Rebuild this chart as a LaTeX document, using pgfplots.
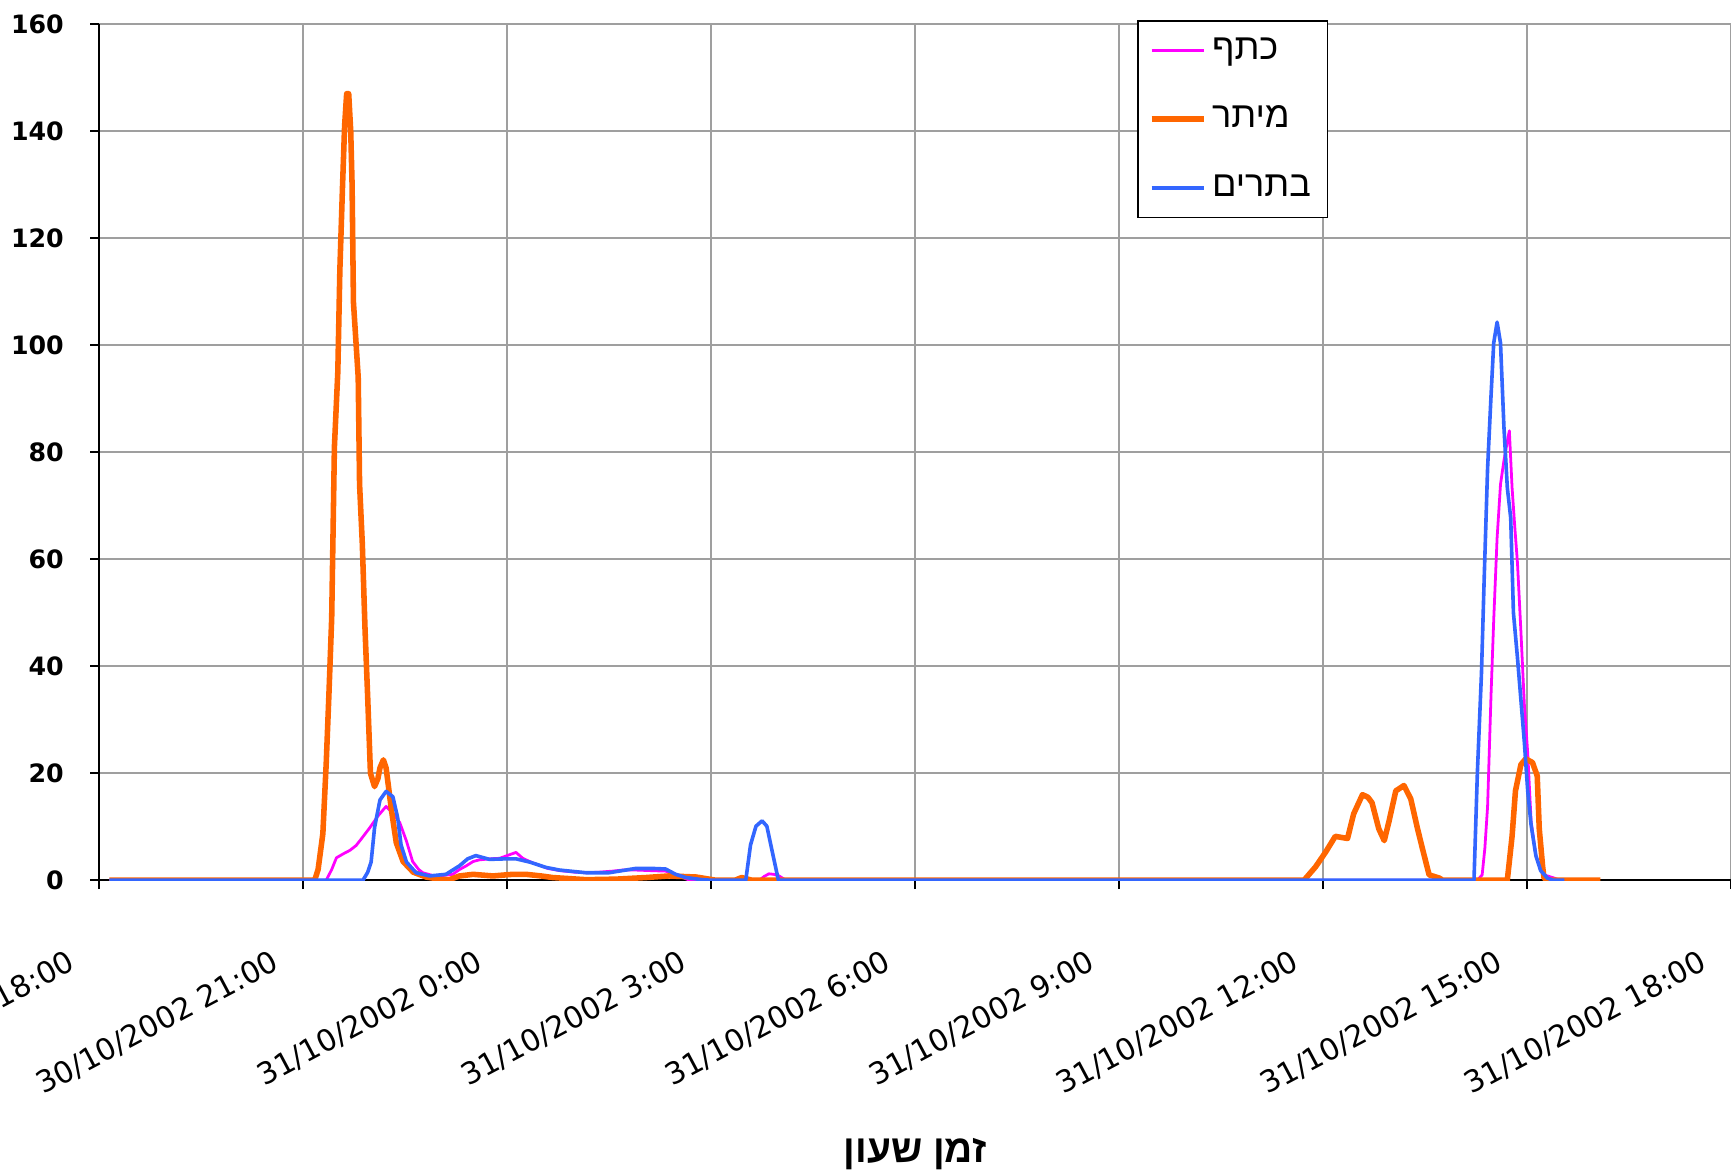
\documentclass[border=0pt]{standalone}
\usepackage{fontspec}
\setmainfont{DejaVu Sans}
\newfontfamily\heb[Script=Hebrew]{Liberation Sans}
\usepackage{pgfplots}
\pgfplotsset{compat=1.18}
\TeXXeTstate=1
\definecolor{kmag}{HTML}{FF00FF}
\definecolor{korg}{HTML}{FF6600}
\definecolor{kblu}{HTML}{3366FF}

% hours counted from 30/10/2002 18:00
\pgfplotstableread{
h v
0.15 0
3.34 0
3.42 2
3.49 4.2
3.60 5
3.69 5.6
3.78 6.5
3.86 7.8
3.98 9.8
4.10 12
4.22 13.8
4.32 12.5
4.42 10.8
4.52 7.3
4.61 3.5
4.70 2
4.76 1.4
4.90 0.9
5.00 0.8
5.20 1.1
5.30 2
5.40 2.7
5.50 3.5
5.59 3.8
5.75 4
5.89 4.1
6.00 4.6
6.13 5.2
6.23 4.1
6.33 3.5
6.43 3
6.60 2.2
6.77 1.8
7.00 1.5
7.16 1.4
7.35 1.5
7.55 1.7
7.70 1.9
7.89 1.9
8.10 1.8
8.33 1.7
8.45 1.2
8.53 0.8
8.68 0
9.71 0
9.78 0.7
9.85 1.2
9.92 1.1
10.00 0.8
10.10 0
20.27 0
20.34 1
20.38 6
20.42 13.8
20.47 34.4
20.51 48.6
20.56 64
20.61 74
20.66 78.4
20.71 82
20.74 84
20.78 73.4
20.82 66
20.86 59.2
20.91 46.5
20.96 33
21.01 23.8
21.06 11
21.13 4.6
21.20 2
21.25 1
21.40 0.4
21.48 0
}\katef

\pgfplotstableread{
h v
0.15 0
3.17 0
3.22 2
3.29 8.7
3.34 22
3.38 35
3.42 49
3.46 81
3.51 95
3.54 114
3.58 130
3.61 141
3.64 147
3.67 147
3.70 140
3.72 130
3.74 108
3.78 100
3.81 94
3.83 74
3.87 63
3.91 47
3.95 34
3.99 20
4.05 17.5
4.10 19
4.13 21
4.18 22.5
4.22 21
4.25 18
4.30 13
4.37 7
4.47 3.5
4.62 1.5
4.81 0.6
5.00 0.2
5.15 0.1
5.30 0.8
5.50 1.1
5.79 0.8
6.08 1.1
6.28 1.1
6.50 0.8
6.67 0.5
7.16 0.1
7.60 0.2
8.04 0.5
8.38 0.8
8.78 0.6
9.07 0
9.35 0
9.45 0.5
9.60 0
17.72 0
17.89 2.5
18.04 5.3
18.18 8.2
18.36 7.8
18.45 12.4
18.58 16
18.66 15.5
18.72 14.5
18.82 9.6
18.90 7.4
18.97 11
19.07 16.7
19.19 17.7
19.29 15.2
19.39 9.6
19.46 6
19.56 1
19.71 0.4
19.76 0
20.71 0
20.78 8.2
20.83 16.7
20.91 21.6
20.98 22.7
21.08 22
21.15 19.5
21.18 9.6
21.23 2.5
21.25 0.4
21.33 0
22.08 0
}\meitar

\pgfplotstableread{
h v
0.15 0
3.88 0
3.95 1.5
4.00 3.4
4.05 9.8
4.13 15
4.22 16.6
4.32 15.6
4.39 11.7
4.44 6.6
4.52 3.4
4.66 1.4
4.86 0.8
5.10 1.1
5.30 2.7
5.42 4
5.54 4.6
5.74 3.9
5.99 4
6.13 4
6.33 3.4
6.57 2.4
6.77 1.9
7.16 1.4
7.50 1.4
7.89 2.2
8.14 2.2
8.33 2.1
8.48 1.1
8.63 0.5
8.87 0.1
9.00 0
9.51 0
9.58 6.6
9.66 10.1
9.75 11.1
9.82 10.1
9.89 5.9
9.99 0
20.22 0
20.27 20.2
20.33 38.7
20.37 56.4
20.42 77
20.47 90.4
20.51 100.4
20.56 104.3
20.61 100.4
20.66 84.8
20.71 73.4
20.76 67.7
20.80 50
20.86 41.5
20.91 33.7
20.96 25.9
21.01 16.7
21.06 10.3
21.13 4.6
21.20 1.8
21.30 0.4
21.38 0
21.55 0
}\batarim

\begin{document}
\begin{tikzpicture}
\begin{axis}[
    name=ax,
    scale only axis,
    width=587.5pt, height=308.2pt,
    xmin=0, xmax=24, ymin=0, ymax=160,
    xtick={0,3,...,24},
    xticklabels={30/10/2002 18:00, 30/10/2002 21:00, 31/10/2002 0:00, 31/10/2002 3:00, 31/10/2002 6:00, 31/10/2002 9:00, 31/10/2002 12:00, 31/10/2002 15:00, 31/10/2002 18:00},
    ytick={0,20,...,160},
    axis x line*=bottom, axis y line*=left,
    axis line style={black, line width=0.8pt},
    tick align=outside,
    major tick length=3.2pt,
    tick style={black, line width=0.7pt},
    grid=major,
    grid style={gray!75, line width=0.7pt},
    /pgf/number format/assume math mode=true,
    yticklabel style={font=\bfseries\fontsize{9.1}{11}\selectfont, xshift=-6pt},
    xticklabel style={rotate=28, anchor=north east, font=\fontsize{10.8}{12}\selectfont, xshift=-17pt, yshift=-10pt},
    xlabel={\heb\bfseries\beginR זמן שעון\endR},
    xlabel style={at={(axis description cs:0.5,-0.32)}, anchor=center, font=\fontsize{14}{16}\selectfont},
    legend style={at={(0.636,1.005)}, anchor=north west, draw=black, line width=0.6pt, fill=white,
        font=\heb\fontsize{13}{15}\selectfont, row sep=11.4pt, inner xsep=4pt, inner ysep=4pt},
    legend cell align=left,
    legend image code/.code={\draw[#1] (0pt,0pt) -- (18.7pt,0pt);},
    every axis plot/.append style={line join=round},
]
\addplot[kmag, line width=1pt] table[x=h, y=v] {\katef};
\addplot[korg, line width=2pt] table[x=h, y=v] {\meitar};
\addplot[kblu, line width=1.3pt] table[x=h, y=v] {\batarim};
\legend{\beginR כתף\endR, \beginR מיתר\endR, \beginR בתרים\endR}
\end{axis}
\pgfresetboundingbox
\useasboundingbox ([xshift=-35.7pt,yshift=-105.8pt]ax.south west) rectangle ([yshift=8.7pt]ax.north east);
\end{tikzpicture}
\end{document}
